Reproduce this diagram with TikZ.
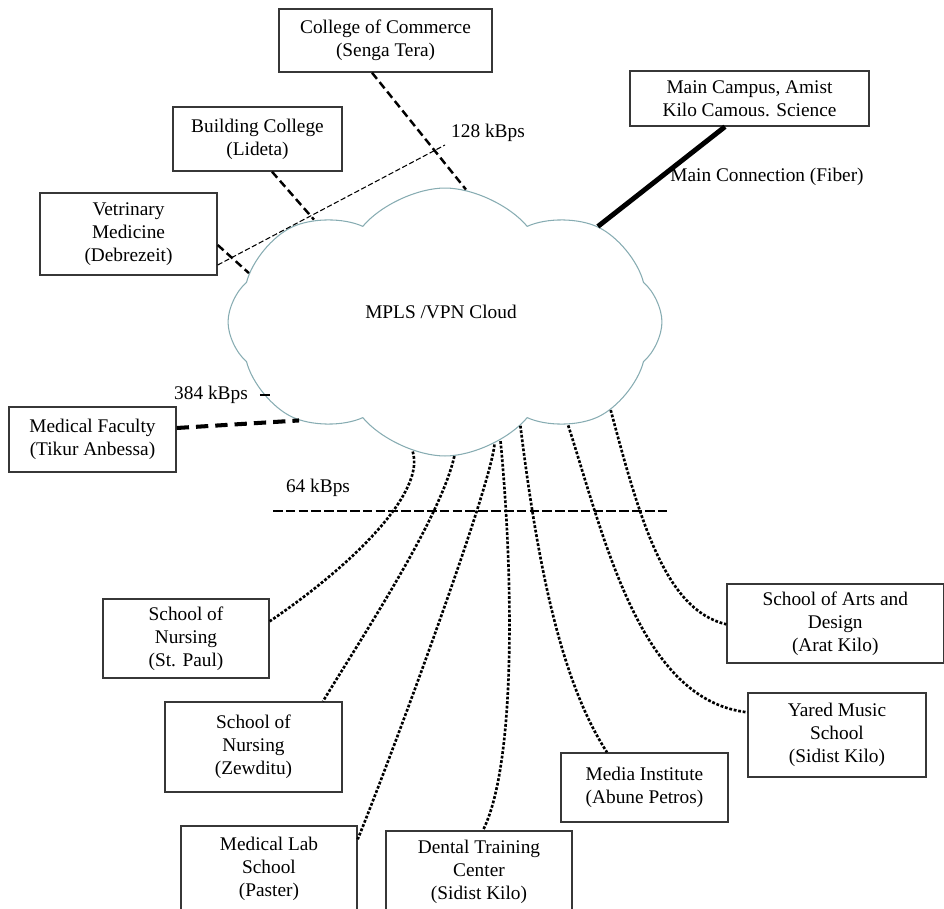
\documentclass[tikz,border=0pt]{standalone}
\usepackage{fontspec}
\setmainfont{Liberation Serif}
\usetikzlibrary{calc, shapes.symbols, positioning}
\definecolor{CloudEdge}{RGB}{135,172,178}
\definecolor{BoxEdge}{RGB}{55,55,55}

\begin{document}
\begin{tikzpicture}[x=0.02cm, y=-0.02cm,
    every node/.style={font=\fontsize{11}{13}\selectfont},
    site/.style={draw=BoxEdge, line width=0.8pt, align=center, inner sep=1pt},
    link/.style={line width=1.4pt, dash pattern=on 4.5pt off 2.4pt},
    fatlink/.style={line width=2.3pt, dash pattern=on 7pt off 4pt},
    fiber/.style={line width=2.8pt},
    rateline/.style={line width=0.6pt, dash pattern=on 3pt off 1.4pt},
    busline/.style={line width=1.2pt, dash pattern=on 5.5pt off 1.8pt},
    dotlink/.style={line width=1.5pt, dash pattern=on 1.6pt off 1pt}]
  \useasboundingbox (0,0) rectangle (944,909);

  % the cloud
  \node[cloud, draw=CloudEdge, line width=0.6pt, cloud puffs=8, cloud puff arc=100,
        minimum width=8.68cm, minimum height=5.36cm] (cloud) at (445,322) {};
  \node (cloudtxt) at (441,312) {MPLS /VPN Cloud};

  % sites
  \node[site, minimum width=4.26cm, minimum height=1.26cm] (comm) at (385.5,40.5) {College of Commerce\\(Senga Tera)};
  \node[site, minimum width=3.38cm, minimum height=1.28cm] (bldg) at (257.5,139) {Building College\\(Lideta)};
  \node[site, minimum width=3.54cm, minimum height=1.64cm] (vet) at (128.5,234) {Vetrinary\\Medicine\\(Debrezeit)};
  \node[site, minimum width=4.78cm, minimum height=1.10cm] (main) at (749.5,98.5) {Main Campus, Amist\\Kilo Camous. Science};
  \node[site, minimum width=3.34cm, minimum height=1.30cm] (medfac) at (92.5,439.5) {Medical Faculty\\(Tikur Anbessa)};
  \node[site, minimum width=3.32cm, minimum height=1.58cm] (stpaul) at (186,638.5) {School of\\Nursing\\(St. Paul)};
  \node[site, minimum width=3.54cm, minimum height=1.80cm] (zewditu) at (253.5,747) {School of\\Nursing\\(Zewditu)};
  \node[site, minimum width=3.52cm, minimum height=1.72cm] (medlab) at (269,869) {Medical Lab\\School\\(Paster)};
  \node[site, minimum width=3.72cm, minimum height=1.64cm] (dental) at (479,872) {Dental Training\\Center\\(Sidist Kilo)};
  \node[site, minimum width=3.34cm, minimum height=1.38cm] (media) at (644.5,787.5) {Media Institute\\(Abune Petros)};
  \node[site, minimum width=3.56cm, minimum height=1.68cm] (yared) at (837,735) {Yared Music\\School\\(Sidist Kilo)};
  \node[site, minimum width=4.33cm, minimum height=1.58cm] (arts) at (835.25,623.5) {School of Arts and\\Design\\(Arat Kilo)};

  % rate labels
  \node (k128) at (488,133) {128 kBps};
  \node (fibertxt) at (767,177) {Main Connection (Fiber)};
  \node (k384) at (211,395) {384 kBps};
  \node (k64) at (318,488) {64 kBps};
  \coordinate (k128end) at (445,145);
  \coordinate (busleft) at (273,511);
  \coordinate (busright) at (669,511);

  % upper links
  \draw[link] ($(comm.south)+(-13.5,0)$) -- (cloud.81);
  \draw[link] ($(bldg.south)+(14.5,0)$) -- (cloud.142);
  \draw[link] ($(vet.east)+(0,11)$) -- (cloud.166);
  \draw[rateline] ($(vet.east)+(0,31)$) -- (k128end);
  \draw[fiber] ($(main.south)+(-24.5,0)$) -- (cloud.32);
  \draw[fatlink] ($(medfac.east)+(0,-11.5)$) -- (cloud.214);
  \draw[line width=0.8pt] ($(k384.east)+(6,0)$) -- ++(10,0);
  \draw[busline] (busleft) -- (busright);

  % lower links
  \draw[dotlink] (cloud.256) .. controls (425,490) and (360,560) .. ($(stpaul.north east)+(0,23)$);
  \draw[dotlink] (cloud.274) .. controls (440,520) and (360,640) .. ($(zewditu.north)+(69.5,0)$);
  \draw[dotlink] (cloud.292) .. controls (490,490) and (390,760) .. ($(medlab.north east)+(0,14)$);
  \draw[dotlink] (cloud.295) .. controls (512,560) and (518,760) .. ($(dental.north)+(4,0)$);
  \draw[dotlink] (cloud.306) .. controls (537,560) and (560,680) .. ($(media.north)+(-37.5,0)$);
  \draw[dotlink] (cloud.320) .. controls (605,540) and (640,700) .. ($(yared.north west)+(0,20)$);
  \draw[dotlink] (cloud.332) .. controls (640,520) and (665,610) .. ($(arts.north west)+(0,41)$);
\end{tikzpicture}
\end{document}
